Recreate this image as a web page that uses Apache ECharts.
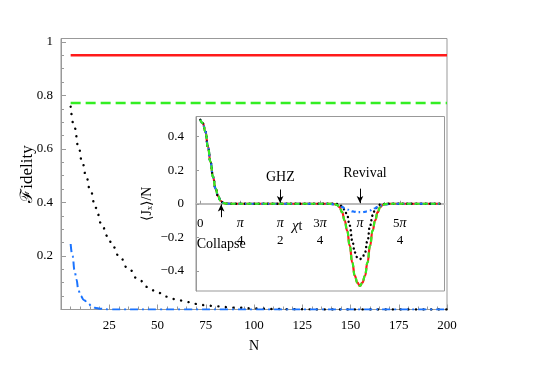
<!DOCTYPE html>
<html><head><meta charset="utf-8">
<script src="https://cdn.jsdelivr.net/npm/echarts@6/dist/echarts.min.js"></script>
<style>html,body{margin:0;padding:0;background:#fff}#c{width:554px;height:388px}</style>
</head><body><div id="c"></div>
<script>
// ---------- main panel data (Fidelity vs N) ----------
const redN   = [5, 50, 100, 150, 200];
const redF   = [0.95, 0.95, 0.95, 0.95, 0.95];
const greenN = [5, 50, 100, 150, 200];
const greenF = [0.772, 0.772, 0.772, 0.772, 0.772];
const blackN = [5,7,9,11,13,15,18,21,24,27,30,35,40,45,50,55,60,65,70,75,80,90,100,110,120,140,160,180,200];
const blackF = [0.758,0.68,0.61,0.55,0.50,0.45,0.38,0.32,0.275,0.235,0.20,0.152,0.113,0.084,0.063,0.048,0.037,0.028,0.021,0.016,0.012,0.007,0.004,0.002,0.001,0,0,0,0];
const blueN  = [5,6,7,8,9,10,12,14,16,18,20,25,50,100,150,200];
const blueF  = [0.245,0.2,0.148,0.112,0.075,0.052,0.035,0.022,0.012,0.006,0.003,0,0,0,0,0];
const mainXTicks = [25,50,75,100,125,150,175,200];

// ---------- inset data (<Jx>/N vs chi t) ----------
const chiT = [0,0.05,0.10,0.15,0.20,0.25,0.30,0.35,0.40,0.45,0.50,0.60,1.0,1.5,2.0,
  2.44,2.54,2.64,2.69,2.74,2.79,2.84,2.89,2.94,2.99,3.04,3.09,3.14,3.19,3.24,3.29,3.34,3.39,3.44,3.49,3.54,3.59,3.64,3.74,3.84,
  4.2,4.712];
const redJx = [0.5,0.48,0.43,0.34,0.25,0.16,0.09,0.045,0.018,0.006,0.001,0,0,0,0,
  0,0,-0.002,-0.007,-0.02,-0.05,-0.10,-0.16,-0.25,-0.35,-0.43,-0.47,-0.49,-0.47,-0.43,-0.35,-0.25,-0.16,-0.10,-0.05,-0.02,-0.007,-0.002,0,0,
  0,0];
const greenJx = [0.5,0.48,0.43,0.34,0.25,0.16,0.09,0.045,0.018,0.006,0.001,0,0,0,0,
  0,0,-0.002,-0.007,-0.02,-0.05,-0.10,-0.16,-0.25,-0.35,-0.43,-0.47,-0.49,-0.47,-0.43,-0.35,-0.25,-0.16,-0.10,-0.05,-0.02,-0.007,-0.002,0,0,
  0,0];
const blackJx = [0.5,0.48,0.43,0.34,0.25,0.16,0.09,0.045,0.018,0.006,0.001,0,0,0,0,
  0,0,0,-0.001,-0.005,-0.015,-0.035,-0.07,-0.13,-0.22,-0.29,-0.32,-0.33,-0.32,-0.29,-0.22,-0.13,-0.07,-0.035,-0.015,-0.005,-0.001,0,0,0,
  0,0];
const blueJx = [0.5,0.48,0.43,0.34,0.25,0.16,0.09,0.045,0.018,0.006,0.001,0,0,0,0,
  0,0,-0.004,-0.008,-0.012,-0.019,-0.027,-0.034,-0.04,-0.045,-0.048,-0.05,-0.05,-0.05,-0.048,-0.045,-0.04,-0.034,-0.027,-0.019,-0.012,-0.008,-0.004,0,0,
  0,0];
const insetTickK = [0,1,2,3,4,5];               // multiples of pi/4
const insetTickText = ['0','{i|π}\n4','{i|π}\n2','3{i|π}\n4','{i|π}','5{i|π}\n4'];
const insetYTicks = [-0.4,-0.2,0,0.2,0.4];
const insetYText = ['−0.4','−0.2','0','0.2','0.4'];

const FONT = "'Liberation Serif','DejaVu Serif',serif";
const pairs = (xs, ys) => xs.map((x, i) => [x, ys[i]]);
const insetTickVals = insetTickK.map(k => k * Math.PI / 4);

const RED = '#ff1a1a', GREEN = '#33ee22', BLUE = '#1a73ff', BLACK = '#000';

// inset geometry
const INSET_TOP = 116.5, INSET_BOTTOM = 97, INSET_YMIN = -0.52, INSET_YMAX = 0.52;
const insetH = 388 - INSET_TOP - INSET_BOTTOM;
const zeroOffset = -insetH * (0 - INSET_YMIN) / (INSET_YMAX - INSET_YMIN);

const chart = echarts.init(document.getElementById('c'), null, {renderer: 'canvas'});
const axisCol = '#999';
const option = {
  animation: false,
  backgroundColor: '#fff',
  textStyle: {fontFamily: FONT},
  grid: [
    {left: 61, top: 38.5, right: 107, bottom: 78.5, show: true, borderColor: axisCol, borderWidth: 1, backgroundColor: 'transparent', z: 0},
    {left: 196, top: INSET_TOP, right: 109.5, bottom: INSET_BOTTOM, show: true, borderColor: axisCol, borderWidth: 1, backgroundColor: '#fff', z: 1}
  ],
  xAxis: [
    {gridIndex: 0, type: 'value', min: 0, max: 200, interval: 25,
     name: 'N', nameLocation: 'middle', nameGap: 30,
     nameTextStyle: {fontFamily: FONT, fontSize: 14, color: '#000'},
     axisLine: {show: true, onZero: false, lineStyle: {color: axisCol}},
     axisTick: {show: true, inside: true, length: 5, lineStyle: {color: axisCol}},
     minorTick: {show: true, splitNumber: 5, length: 3, lineStyle: {color: axisCol}},
     splitLine: {show: false},
     axisLabel: {fontFamily: FONT, fontSize: 13, color: '#000', margin: 10, showMinLabel: false,
       formatter: v => mainXTicks.includes(v) ? String(v) : ''}},
    {gridIndex: 1, type: 'value', min: -0.085, max: 4.805, position: 'bottom', offset: zeroOffset, z: 2,
     axisLine: {show: true, onZero: false, lineStyle: {color: '#bbb', width: 2}},
     axisTick: {show: true, inside: true, length: 3, customValues: insetTickVals, lineStyle: {color: axisCol}},
     splitLine: {show: false},
     axisLabel: {fontFamily: FONT, fontSize: 13, color: '#000', margin: 11, lineHeight: 17,
       customValues: insetTickVals,
       formatter: v => { const i = insetTickVals.findIndex(t => Math.abs(t - v) < 1e-6); return i >= 0 ? insetTickText[i] : ''; },
       rich: {i: {fontFamily: FONT, fontSize: 14, fontStyle: 'italic', lineHeight: 17, color: '#000'}}}}
  ],
  yAxis: [
    {gridIndex: 0, type: 'value', min: 0, max: 1.013, interval: 0.2,
     name: 'ℱidelity', nameLocation: 'middle', nameRotate: 90, nameGap: 25, nameMoveOverlap: false,
     nameTextStyle: {fontFamily: FONT, fontSize: 17, color: '#000'},
     axisLine: {show: true, onZero: false, lineStyle: {color: axisCol}},
     axisTick: {show: true, inside: true, length: 5, lineStyle: {color: axisCol}},
     minorTick: {show: true, splitNumber: 4, length: 3, lineStyle: {color: axisCol}},
     splitLine: {show: false},
     axisLabel: {fontFamily: FONT, fontSize: 13, color: '#000', margin: 8, showMinLabel: false, showMaxLabel: false,
       formatter: v => (Math.abs(v - 1) < 1e-9 ? '1' : String(+v.toFixed(2)))}},
    {gridIndex: 1, type: 'value', min: INSET_YMIN, max: INSET_YMAX, z: 2,
     name: '⟨Jₓ⟩/N', nameLocation: 'middle', nameRotate: 90, nameGap: 42,
     nameTextStyle: {fontFamily: FONT, fontSize: 14, color: '#000'},
     axisLine: {show: true, onZero: false, lineStyle: {color: axisCol}},
     axisTick: {show: true, inside: true, length: 3, customValues: insetYTicks, lineStyle: {color: axisCol}},
     splitLine: {show: false},
     axisLabel: {fontFamily: FONT, fontSize: 13, color: '#000', margin: 12, customValues: insetYTicks,
       formatter: v => { const i = insetYTicks.findIndex(t => Math.abs(t - v) < 1e-6); return i >= 0 ? insetYText[i] : ''; }}}
  ],
  series: [
    {type: 'line', xAxisIndex: 0, yAxisIndex: 0, data: pairs(redN, redF), symbol: 'none', silent: true,
     lineStyle: {color: RED, width: 2.5}},
    {type: 'line', xAxisIndex: 0, yAxisIndex: 0, data: pairs(greenN, greenF), symbol: 'none', silent: true,
     lineStyle: {color: GREEN, width: 2.5, type: [10, 5]}},
    {type: 'line', xAxisIndex: 0, yAxisIndex: 0, data: pairs(blackN, blackF), symbol: 'none', silent: true,
     smooth: true, smoothMonotone: 'x',
     lineStyle: {color: BLACK, width: 2.4, type: [0.1, 7.5], cap: 'round'}},
    {type: 'line', xAxisIndex: 0, yAxisIndex: 0, data: pairs(blueN, blueF), symbol: 'none', silent: true,
     smooth: true, smoothMonotone: 'x',
     lineStyle: {color: BLUE, width: 2, type: [8, 4, 2, 4]}},

    {type: 'line', xAxisIndex: 1, yAxisIndex: 1, data: pairs(chiT, redJx), symbol: 'none', silent: true, z: 4,
     smooth: true, smoothMonotone: 'x',
     lineStyle: {color: RED, width: 2.2},
     markLine: {silent: true, symbol: ['none', 'arrow'], symbolSize: [5, 7], animation: false,
       lineStyle: {color: '#000', width: 1, type: 'solid'}, label: {show: false},
       data: [
         [{coord: [Math.PI / 2, 0.085]}, {coord: [Math.PI / 2, 0.004]}],
         [{coord: [Math.PI, 0.09]}, {coord: [Math.PI, 0.004]}],
         [{coord: [0.41, -0.08]}, {coord: [0.41, -0.004]}]
       ]},
     markPoint: {silent: true, symbol: 'circle', symbolSize: 0, animation: false,
       label: {show: true, position: 'inside', fontFamily: FONT, fontSize: 14, color: '#000',
         rich: {i: {fontFamily: FONT, fontSize: 15, fontStyle: 'italic', color: '#000'}}},
       data: [
         {coord: [1.575, 0.156], label: {formatter: 'GHZ'}},
         {coord: [3.24, 0.18], label: {formatter: 'Revival'}},
         {coord: [0.41, -0.244], label: {formatter: 'Collapse'}},
         {coord: [1.905, -0.135], label: {formatter: '{i|χ}t'}}
       ]}},
    {type: 'line', xAxisIndex: 1, yAxisIndex: 1, data: pairs(chiT, blackJx), symbol: 'none', silent: true, z: 5,
     smooth: true, smoothMonotone: 'x',
     lineStyle: {color: BLACK, width: 2.4, type: [0.1, 4.5], cap: 'round'}},
    {type: 'line', xAxisIndex: 1, yAxisIndex: 1, data: pairs(chiT, blueJx), symbol: 'none', silent: true, z: 6,
     smooth: true, smoothMonotone: 'x',
     lineStyle: {color: BLUE, width: 2.2, type: [4, 3, 1.5, 3]}},
    {type: 'line', xAxisIndex: 1, yAxisIndex: 1, data: pairs(chiT, greenJx), symbol: 'none', silent: true, z: 7,
     smooth: true, smoothMonotone: 'x',
     lineStyle: {color: GREEN, width: 2.2, type: [5, 3]}}
  ]
};
chart.setOption(option);
</script>
</body></html>
